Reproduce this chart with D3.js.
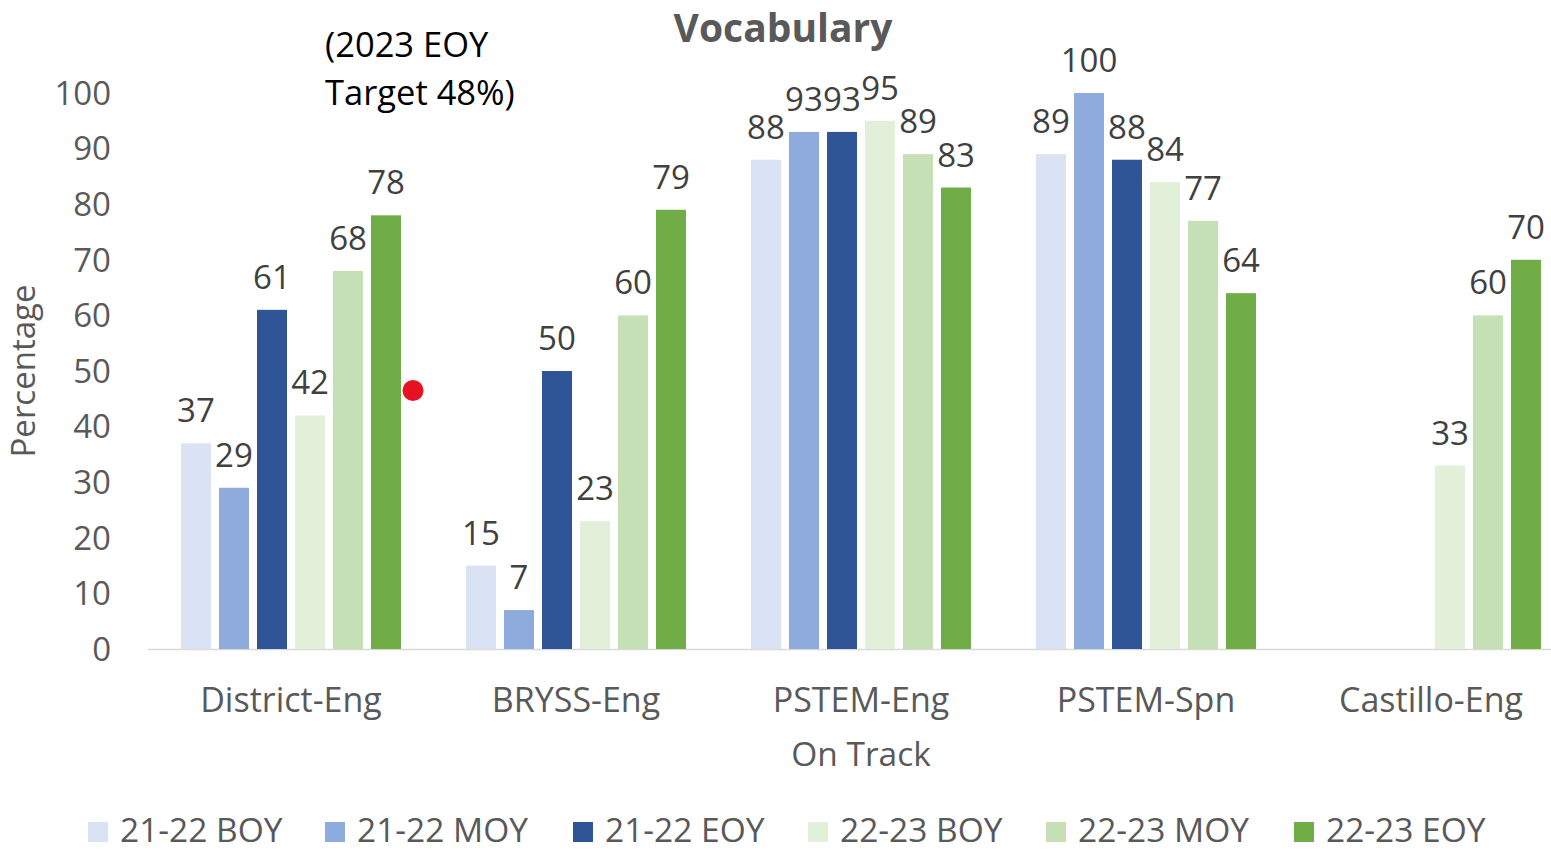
<!DOCTYPE html>
<html lang="en">
<head>
  <meta charset="UTF-8" />
  <title>Vocabulary</title>
  <style>
    body { margin: 0; background: #fff; }
    svg { display: block; }
    text { font-family: "Open Sans", "Noto Sans", sans-serif; }
  </style>
  <script src="https://cdn.jsdelivr.net/npm/d3@7"></script>
</head>
<body>
  <svg id="chart"></svg>
  <script>
    const categories = ['District-Eng', 'BRYSS-Eng', 'PSTEM-Eng', 'PSTEM-Spn', 'Castillo-Eng'];
    const seriesNames = ['21-22 BOY', '21-22 MOY', '21-22 EOY', '22-23 BOY', '22-23 MOY', '22-23 EOY'];
    const boy2122 = [37, 15, 88, 89, null];
    const moy2122 = [29, 7, 93, 100, null];
    const eoy2122 = [61, 50, 93, 88, null];
    const boy2223 = [42, 23, 95, 84, 33];
    const moy2223 = [68, 60, 89, 77, 60];
    const eoy2223 = [78, 79, 83, 64, 70];
    const yTicks = [0, 10, 20, 30, 40, 50, 60, 70, 80, 90, 100];
    const targetValue = 46.5; // red dot as plotted
    const colors = ['#dae3f3', '#8faadc', '#2f5597', '#e2f0d9', '#c5e0b4', '#70ad47'];

    const series = [boy2122, moy2122, eoy2122, boy2223, moy2223, eoy2223];

    const width = 1551, height = 852;
    const svg = d3.select('#chart').attr('width', width).attr('height', height);

    const x0 = d3.scaleBand().domain(categories).range([148.5, 1573.5]).paddingInner(0).paddingOuter(0);
    const x1 = d3.scaleBand().domain(seriesNames)
      .range([x0.bandwidth() * 0.114, x0.bandwidth() * 0.886])
      .paddingInner(8 / 38).paddingOuter(0);
    const y = d3.scaleLinear().domain([0, 100]).range([649, 93]);

    // y tick labels
    svg.append('g').selectAll('text').data(yTicks).join('text')
      .attr('x', 111).attr('y', d => y(d)).attr('dy', '0.36em')
      .attr('text-anchor', 'end').attr('fill', '#595959').attr('font-size', 33)
      .text(d => d);

    // baseline
    svg.append('line').attr('x1', 148).attr('x2', width)
      .attr('y1', y(0) + 0.5).attr('y2', y(0) + 0.5)
      .attr('stroke', '#d9d9d9').attr('stroke-width', 1.5);

    // bars
    const groups = svg.append('g').selectAll('g').data(categories).join('g')
      .attr('transform', d => `translate(${x0(d)},0)`);

    groups.each(function (cat, ci) {
      const g = d3.select(this);
      const items = seriesNames.map((s, si) => ({ s, si, v: series[si][ci] })).filter(d => d.v != null);
      g.selectAll('rect').data(items).join('rect')
        .attr('x', d => x1(d.s)).attr('width', x1.bandwidth())
        .attr('y', d => y(d.v)).attr('height', d => y(0) - y(d.v))
        .attr('fill', d => colors[d.si]);
      g.selectAll('text').data(items).join('text')
        .attr('x', d => x1(d.s) + x1.bandwidth() / 2)
        .attr('y', d => y(d.v) - 21)
        .attr('text-anchor', 'middle').attr('fill', '#404040').attr('font-size', 33)
        .text(d => d.v);
    });

    // target dot
    svg.append('circle')
      .attr('cx', x0('District-Eng') + x1('22-23 EOY') + x1.bandwidth() + 12)
      .attr('cy', y(targetValue)).attr('r', 10.5).attr('fill', '#e81123');

    svg.append('text').attr('x', 325).attr('y', 57).attr('font-size', 34.5).attr('fill', '#000')
      .text('(2023 EOY');
    svg.append('text').attr('x', 325).attr('y', 105).attr('font-size', 34.5).attr('fill', '#000')
      .text('Target 48%)');

    // category labels
    svg.append('g').selectAll('text').data(categories).join('text')
      .attr('x', d => x0(d) + x0.bandwidth() / 2).attr('y', 712)
      .attr('text-anchor', 'middle').attr('fill', '#595959').attr('font-size', 34)
      .text(d => d);

    svg.append('text').attr('x', 861).attr('y', 766).attr('text-anchor', 'middle')
      .attr('fill', '#595959').attr('font-size', 33.5).text('On Track');

    svg.append('text').attr('transform', 'translate(35,371) rotate(-90)')
      .attr('text-anchor', 'middle').attr('fill', '#595959').attr('font-size', 33)
      .text('Percentage');

    svg.append('text').attr('x', 783).attr('y', 42).attr('text-anchor', 'middle')
      .attr('fill', '#595959').attr('font-size', 39).attr('font-weight', 'bold')
      .text('Vocabulary');

    // legend
    const legendX = [88, 325, 573, 808, 1046, 1294];
    const legend = svg.append('g').selectAll('g').data(seriesNames).join('g')
      .attr('transform', (d, i) => `translate(${legendX[i]},822)`);
    legend.append('rect').attr('width', 20).attr('height', 20).attr('fill', (d, i) => colors[i]);
    legend.append('text').attr('x', 32).attr('y', 20).attr('font-size', 33.5)
      .attr('fill', '#595959').text(d => d);
  </script>
</body>
</html>
